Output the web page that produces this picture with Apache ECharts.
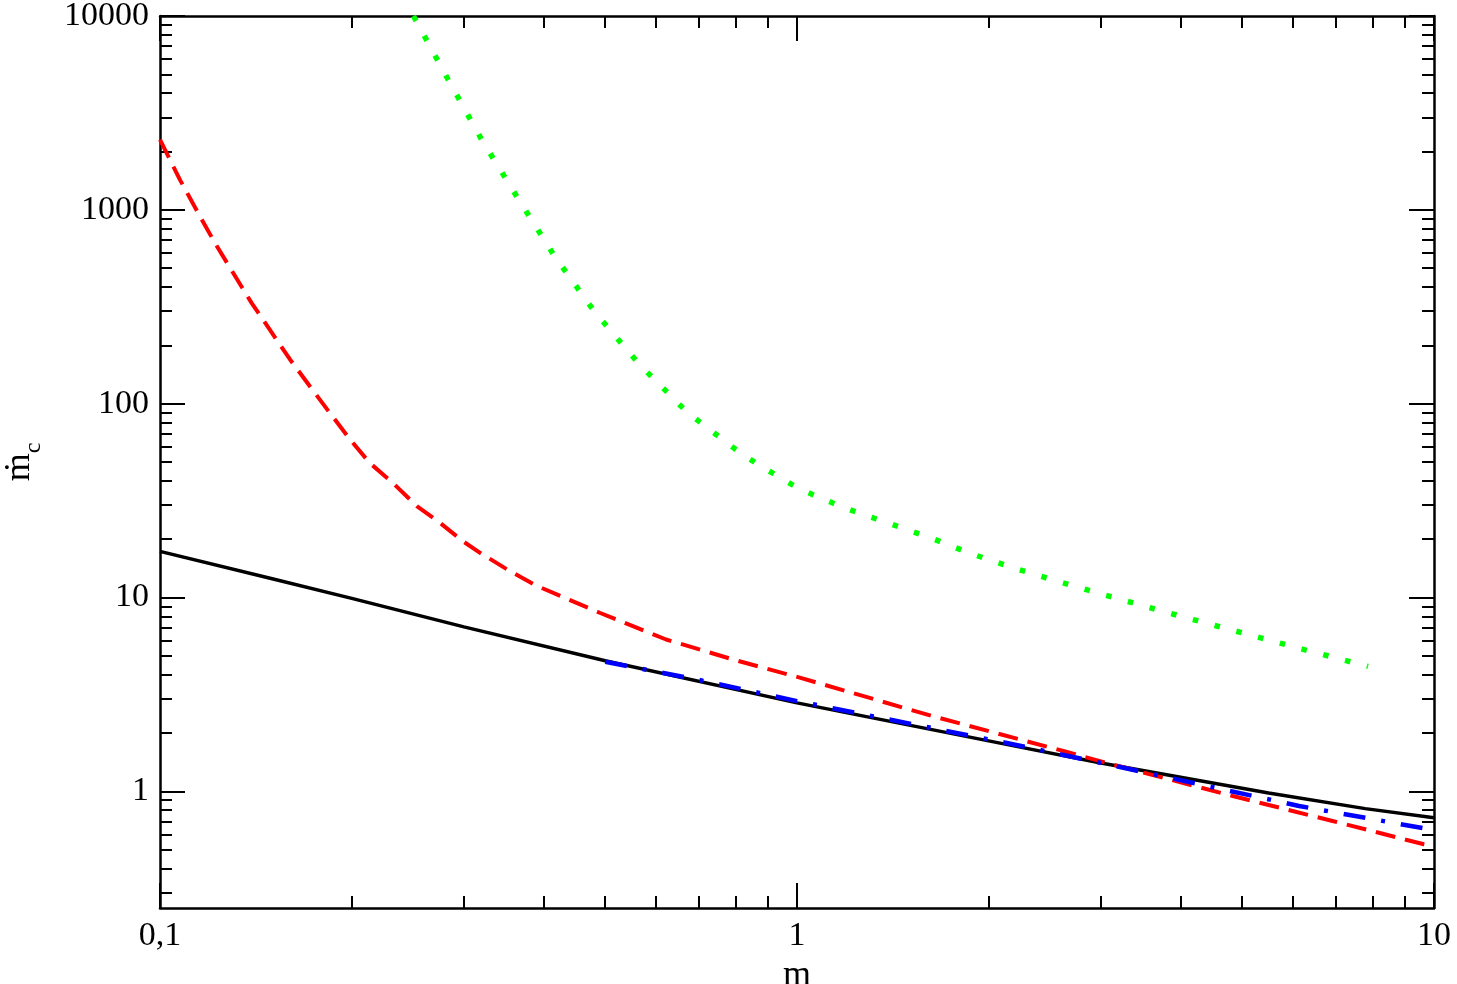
<!DOCTYPE html>
<html>
<head>
<meta charset="utf-8">
<script src="https://cdn.jsdelivr.net/npm/echarts@6/dist/echarts.min.js"></script>
<style>
  html, body { margin: 0; padding: 0; background: #fff; }
  #chart { width: 1457px; height: 984px; }
</style>
</head>
<body>
<div id="chart"></div>
<script>
  // values (m, mdot_c)
  var blackM  = [0.1, 0.15, 0.2, 0.3, 0.5, 1.0, 2.2, 3.0, 5.5, 7.8, 10];
  var blackMc = [17.3, 12.5, 9.9, 7.05, 4.72, 2.86, 1.71, 1.40, 0.98, 0.814, 0.73];

  var redM  = [0.1, 0.1075, 0.1148, 0.122, 0.1303, 0.1393, 0.1488, 0.16, 0.1719, 0.1848, 0.199, 0.2135, 0.232, 0.253, 0.275, 0.299, 0.318, 0.354, 0.39, 0.49, 0.623, 0.793, 1.01, 1.633, 2.645, 3.09, 4.83, 6.93, 9.64, 10];
  var redMc = [2300, 1428, 962, 673, 472, 330, 240, 169, 123, 89.5, 65, 49.4, 39, 29.6, 24.3, 19.5, 17.0, 13.7, 11.5, 8.34, 6.07, 4.79, 3.86, 2.44, 1.60, 1.39, 0.946, 0.703, 0.533, 0.52];

  var greenM  = [0.25, 0.283, 0.32, 0.365, 0.417, 0.481, 0.566, 0.673, 0.821, 0.946, 1.015, 1.18, 1.386, 1.62, 1.888, 2.21, 2.59, 3.04, 3.56, 4.18, 4.53, 6.23, 7.88];
  var greenMc = [10000, 4730, 2296, 1140, 572, 298, 159, 90, 54.6, 41, 36, 29.2, 24.3, 20.3, 16.7, 14.06, 12.0, 10.3, 8.91, 7.70, 7.17, 5.4, 4.41];

  var blueM  = [0.5, 0.7, 1.0, 2.2, 3.11, 4.28, 6.14, 9.83, 10];
  var blueMc = [4.66, 3.76, 2.92, 1.74, 1.366, 1.087, 0.84, 0.637, 0.63];

  var xMajor = [0.1, 1, 10];
  var yMajor = [1, 10, 100, 1000, 10000];

  function zip(a, b) {
    return a.map(function (v, i) { return [v, b[i]]; });
  }
  function lg(v) { return Math.log10(v); }
  // minor tick positions 2..9 of each decade, in log space
  function minorTicks(lo, hi) {
    var out = [];
    for (var d = Math.floor(lg(lo)); d < Math.ceil(lg(hi)); d++) {
      for (var k = 2; k <= 9; k++) {
        var v = k * Math.pow(10, d);
        if (v > lo && v < hi) out.push(lg(v));
      }
    }
    return out;
  }
  function fmt(v) {
    var n = Math.pow(10, Math.round(v * 1000) / 1000);
    return String(+n.toPrecision(6)).replace('.', ',');
  }

  var xMin = 0.1, xMax = 10, yMin = 0.25, yMax = 10000;
  var font = 'Liberation Serif';
  var black = '#000';

  function tickAxis(pos, lo, hi, values, len, withLabel, showLine) {
    return {
      type: 'value', position: pos, min: lg(lo), max: lg(hi),
      axisLine: { show: showLine, onZero: false, lineStyle: { color: black, width: 2.5 } },
      axisTick: { show: true, inside: true, length: len, customValues: values,
                  lineStyle: { color: black, width: 2 } },
      axisLabel: withLabel ? {
        show: true, customValues: values, formatter: fmt, margin: 11,
        fontFamily: font, fontSize: 34, color: black
      } : { show: false },
      splitLine: { show: false }
    };
  }

  var chart = echarts.init(document.getElementById('chart'));

  var xTickMajor = xMajor.map(lg);
  var yTickMajor = yMajor.map(lg);

  var xAxes = [
    { type: 'log', logBase: 10, min: xMin, max: xMax, position: 'bottom', show: false },
    Object.assign(tickAxis('bottom', xMin, xMax, xTickMajor, 25, true, true), {
      name: 'm', nameLocation: 'middle', nameGap: 42,
      nameTextStyle: { fontFamily: font, fontSize: 36, color: black }
    }),
    tickAxis('bottom', xMin, xMax, minorTicks(xMin, xMax), 12, false, false),
    tickAxis('top', xMin, xMax, xTickMajor, 25, false, true),
    tickAxis('top', xMin, xMax, minorTicks(xMin, xMax), 12, false, false)
  ];
  var yAxes = [
    { type: 'log', logBase: 10, min: yMin, max: yMax, position: 'left', show: false },
    Object.assign(tickAxis('left', yMin, yMax, yTickMajor, 25, true, true), {
      name: '{m|ṁ}{c|c}', nameLocation: 'middle', nameGap: 114, nameRotate: 90,
      nameTextStyle: {
        color: black,
        rich: {
          m: { fontFamily: font, fontSize: 36, lineHeight: 44, verticalAlign: 'top', color: black },
          c: { fontFamily: font, fontSize: 24, lineHeight: 44, verticalAlign: 'bottom', color: black }
        }
      }
    }),
    tickAxis('left', yMin, yMax, minorTicks(yMin, yMax), 12, false, false),
    tickAxis('right', yMin, yMax, yTickMajor, 25, false, true),
    tickAxis('right', yMin, yMax, minorTicks(yMin, yMax), 12, false, false)
  ];

  function line(data, color, width, dash) {
    return {
      type: 'line', xAxisIndex: 0, yAxisIndex: 0, data: data,
      showSymbol: false, symbol: 'none', clip: true, animation: false,
      lineStyle: { color: color, width: width, type: dash, cap: 'butt' }
    };
  }

  chart.setOption({
    backgroundColor: '#fff',
    animation: false,
    grid: { left: 160, right: 23, top: 16, bottom: 76, containLabel: false, outerBoundsMode: 'none' },
    xAxis: xAxes,
    yAxis: yAxes,
    series: [
      line(zip(blackM, blackMc), '#000000', 3.5, 'solid'),
      line(zip(redM, redMc), '#ff0000', 4, [20, 10]),
      line(zip(greenM, greenMc), '#00ff00', 5.5, [5.5, 17]),
      line(zip(blueM, blueMc), '#0000ff', 4.5, [22, 16, 4, 16])
    ]
  });
</script>
</body>
</html>
